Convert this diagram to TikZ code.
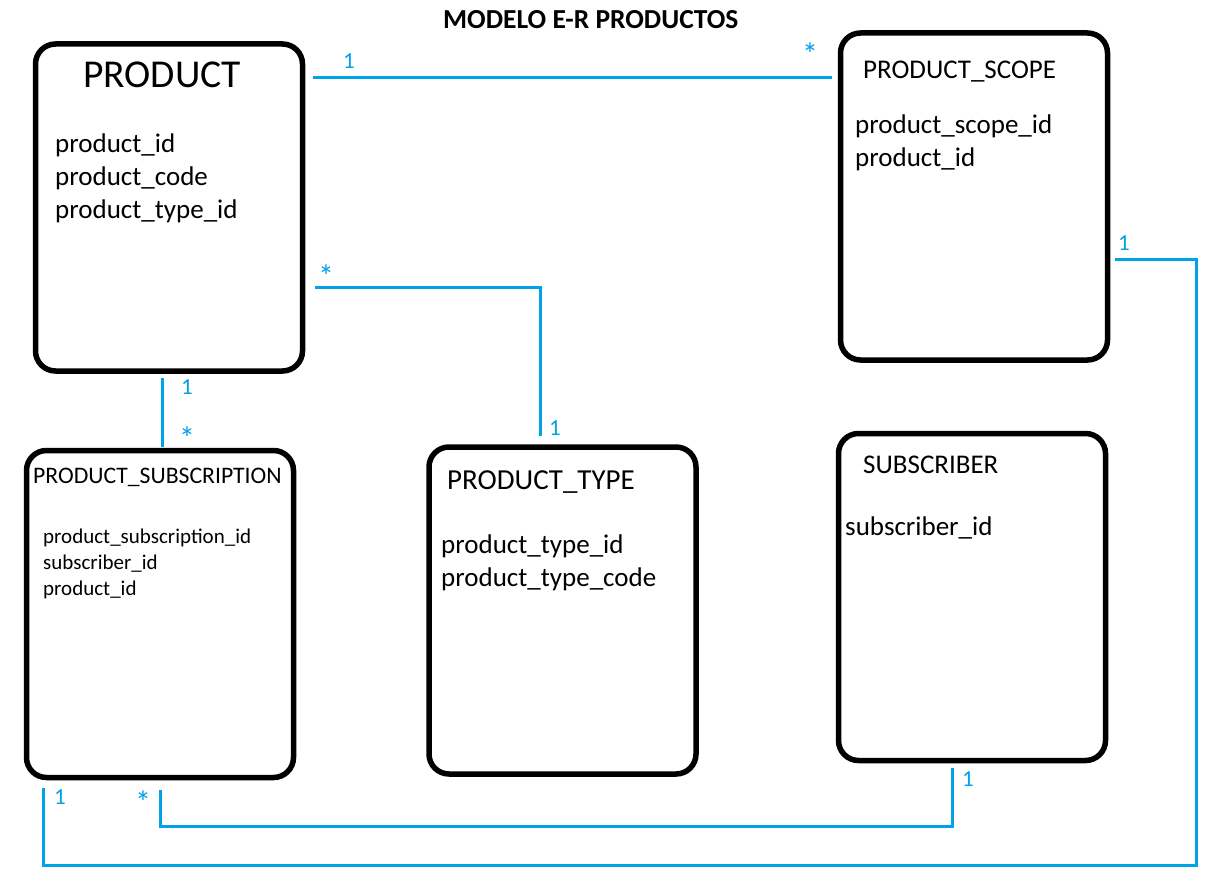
\documentclass[tikz,border=0pt]{standalone}
\usepackage{fontspec}
\setmainfont{Carlito}
\usepackage{tikz}

\definecolor{relblue}{RGB}{0,162,232}

\tikzset{
    entity/.style={draw, line width=5.5pt, rounded corners=20pt, minimum width=267pt, minimum height=327pt, inner sep=0pt},
    entname/.style={anchor=base west, inner sep=0pt, font=\fontsize{27}{27}\selectfont},
    attr/.style={anchor=base west, inner sep=0pt, font=\fontsize{27}{27}\selectfont},
    smallattr/.style={anchor=base west, inner sep=0pt, font=\fontsize{21}{21}\selectfont},
    relation/.style={draw=relblue, line width=3pt},
    card/.style={anchor=center, inner sep=0pt, text=relblue, font=\fontsize{23}{23}\selectfont},
    cardstar/.style={card, font=\fontsize{32}{32}\selectfont}
}

\begin{document}
\begin{tikzpicture}[x=1pt, y=-1pt]
        \fill[white] (0,0) rectangle (1230,880);
        \useasboundingbox (0,0) rectangle (1230,880);

        \node[anchor=base west, inner sep=0pt, font=\fontsize{27.5}{27.5}\selectfont\bfseries] (title) at (443,29) {MODELO E-R PRODUCTOS};

        \node[entity] (product) at (169,207.5) {};
        \node[entity] (scope) at (974,196.5) {};
        \node[entity] (subscription) at (160,614) {};
        \node[entity] (ptype) at (562.5,610.5) {};
        \node[entity] (subscriber) at (972,597) {};

        \node[entname, font=\fontsize{39.5}{39.5}\selectfont] (productname) at (83,88) {PRODUCT};
        \node[attr] (productid) at (55,152) {product\_id};
        \node[attr] (productcode) at (55,185) {product\_code};
        \node[attr] (producttypeid) at (55,218) {product\_type\_id};

        \node[entname] (scopename) at (863,79) {PRODUCT\_SCOPE};
        \node[attr] (scopeid) at (855,133) {product\_scope\_id};
        \node[attr] (scopeproductid) at (855,166) {product\_id};

        \node[entname, font=\fontsize{23.7}{23.7}\selectfont] (subscriptionname) at (33,483) {PRODUCT\_SUBSCRIPTION};
        \node[smallattr] (subscriptionid) at (43,543) {product\_subscription\_id};
        \node[smallattr] (subscriptionsubscriberid) at (43,569) {subscriber\_id};
        \node[smallattr] (subscriptionproductid) at (43,595) {product\_id};

        \node[entname, font=\fontsize{29}{29}\selectfont] (ptypename) at (447,489) {PRODUCT\_TYPE};
        \node[attr] (ptypeid) at (441,553) {product\_type\_id};
        \node[attr] (ptypecode) at (441,586) {product\_type\_code};

        \node[entname] (subscribername) at (863,473) {SUBSCRIBER};
        \node[attr] (subscriberid) at (845,535) {subscriber\_id};

        \draw[relation] ([shift={(8,36)}]product.north east) -- ([shift={(-6,47)}]scope.north west);
        \draw[relation] ([shift={(10,246)}]product.north east) -| ([shift={(-22.5,-8)}]ptype.north);
        \draw[relation] ([shift={(-7,4)}]product.south) -- ([shift={(2,-1)}]subscription.north);
        \draw[relation] ([shift={(0,10)}]subscription.south) -- ++(0,36) -| ([shift={(-20,5)}]subscriber.south);
        \draw[relation] ([shift={(20,8)}]subscription.south west) -- ++(0,77) -| ([shift={(86,62.5)}]scope.east) -- ([shift={(5,62.5)}]scope.east);

        \node[card] (productscopeone) at (349,61) {1};
        \node[cardstar] (productscopemany) at (810,54) {*};
        \node[cardstar] (producttypemany) at (326,276) {*};
        \node[card] (producttypeone) at (555,428) {1};
        \node[card] (productsubone) at (187,387) {1};
        \node[cardstar] (productsubmany) at (187,438) {*};
        \node[cardstar] (subscribermany) at (143,802) {*};
        \node[card] (subscriberone) at (968,779) {1};
        \node[card] (scopesubone) at (60,797) {1};
        \node[card] (scopeone) at (1124,243) {1};
    \end{tikzpicture}
\end{document}
